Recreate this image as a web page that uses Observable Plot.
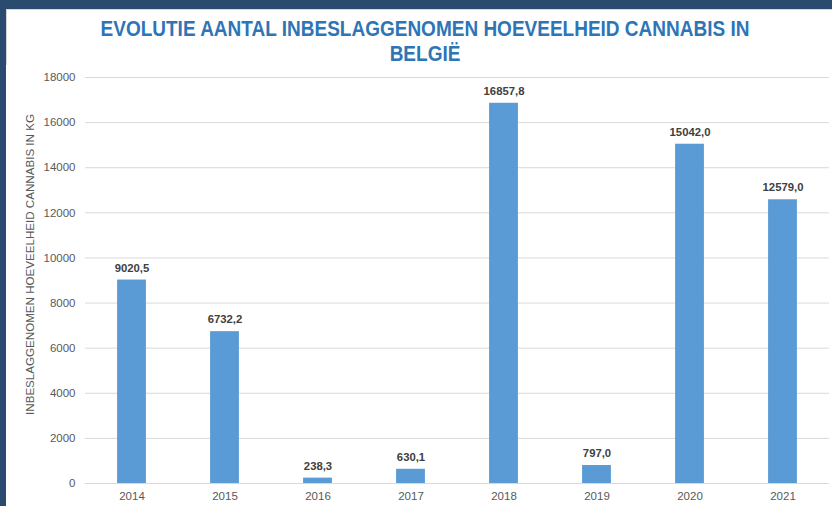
<!DOCTYPE html>
<html>
<head>
<meta charset="utf-8">
<script src="https://cdn.jsdelivr.net/npm/d3@7"></script>
<script src="https://cdn.jsdelivr.net/npm/@observablehq/plot@0.6"></script>
<style>
  html, body { margin: 0; padding: 0; background: #2B4B6E; }
  #frame {
    width: 826px; height: 497px;
    border-top: 9px solid #2B4B6E; border-left: 6px solid #2B4B6E;
    background: #fff; box-shadow: inset 1px 1px 0 #d6d6d6;
    overflow: hidden;
  }
  #title {
    height: 56px; box-sizing: border-box; padding-top: 11px; padding-left: 12px;
    font-family: "Liberation Sans Narrow", "Liberation Sans", Arial, sans-serif;
    font-weight: bold; font-size: 19px; line-height: 22px;
    color: #2E75B6; text-align: center;
  }
  #title span { display: inline-block; transform: scaleY(1.12); }
  svg { display: block; }
</style>
</head>
<body>
<div id="frame">
  <div id="title"><span>EVOLUTIE AANTAL INBESLAGGENOMEN HOEVEELHEID CANNABIS IN<br>BELGIË</span></div>
  <div id="chart"></div>
</div>
<script>
const years = ["2014", "2015", "2016", "2017", "2018", "2019", "2020", "2021"];
const amounts = [9020.5, 6732.2, 238.3, 630.1, 16857.8, 797.0, 15042.0, 12579.0];
const yTicks = [0, 2000, 4000, 6000, 8000, 10000, 12000, 14000, 16000, 18000];
const yLabel = "INBESLAGGENOMEN HOEVEELHEID CANNABIS IN KG";

const data = years.map((y, i) => ({year: y, value: amounts[i]}));
const fmt = v => d3.format(".1f")(v).replace(".", ",");

const chart = Plot.plot({
  width: 826,
  height: 441,
  marginLeft: 79,
  marginRight: 3,
  marginTop: 12,
  marginBottom: 23,
  style: {fontFamily: "'Liberation Sans', Arial, sans-serif", fontSize: "11.5px", color: "#595959", background: "#fff"},
  x: {domain: years, paddingInner: 0.69, paddingOuter: 0.345, round: false, label: null},
  y: {domain: [0, 18000], label: null},
  marks: [
    Plot.ruleY(yTicks, {stroke: "#D9D9D9", strokeWidth: 1}),
    Plot.barY(data, {x: "year", y: "value", fill: "#5B9BD5"}),
    Plot.text(data, {x: "year", y: "value", text: d => fmt(d.value), dy: -12,
      fontWeight: "bold", fontSize: 11.3, fill: "#404040"}),
    Plot.axisX({tickSize: 0, tickPadding: 8, fill: "#595959"}),
    Plot.axisY({ticks: yTicks, tickSize: 0, tickPadding: 10, tickFormat: d => String(d), fill: "#595959"}),
    Plot.text([yLabel], {frameAnchor: "left", textAnchor: "middle", text: d => d, rotate: -90, dx: -55, dy: -16,
      fill: "#595959", fontSize: 11.6})
  ]
});
document.getElementById("chart").appendChild(chart);
</script>
</body>
</html>
